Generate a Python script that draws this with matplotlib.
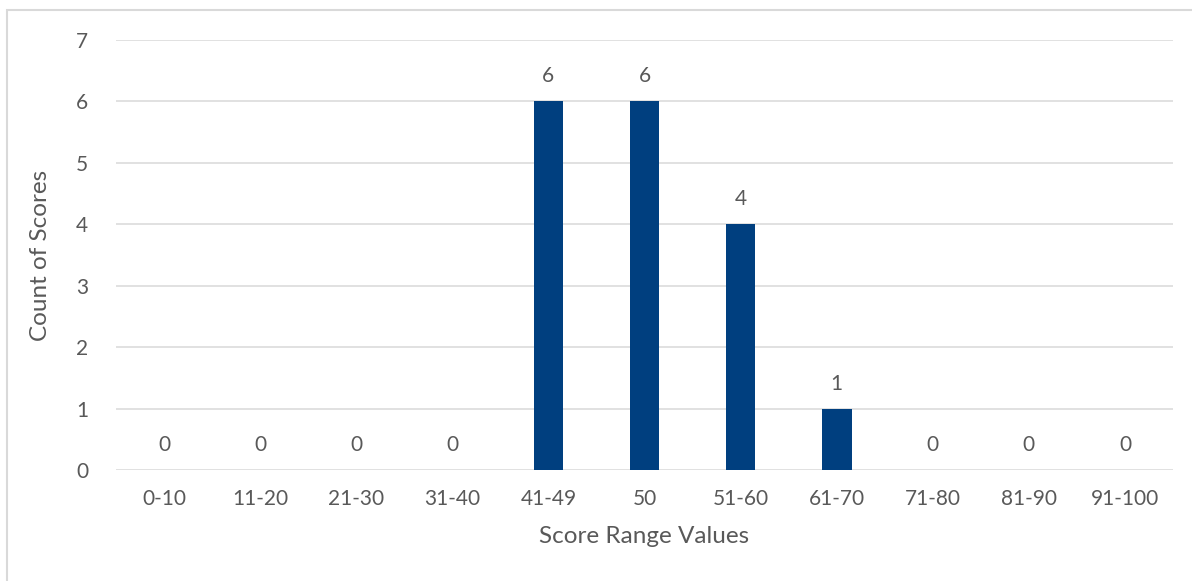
import matplotlib.pyplot as plt
from matplotlib.patches import Rectangle

ranges = ['0-10', '11-20', '21-30', '31-40', '41-49', '50', '51-60', '61-70', '71-80', '81-90', '91-100']
counts = [0, 0, 0, 0, 6, 6, 4, 1, 0, 0, 0]

TEXT = '#595959'
GRID = '#d9d9d9'
BAR = '#003f7f'

plt.rcParams['font.family'] = ['Lato', 'DejaVu Sans']

fig = plt.figure(figsize=(11.92, 5.81), dpi=100)
ax = fig.add_axes([116 / 1192, 111 / 581, 1057 / 1192, 430 / 581])

# chart area frame (runs off the right and bottom edges)
fig.patches.append(Rectangle((7 / 1192, -0.05), 1.2, 1 - 10 / 581 + 0.05,
                             transform=fig.transFigure, fill=False,
                             edgecolor=GRID, linewidth=1.5))

x = range(len(ranges))
bars = ax.bar(x, counts, width=0.31, color=BAR, zorder=3)
for xi, c in zip(x, counts):
    ax.annotate(str(c), (xi, c), xytext=(0, 18), textcoords='offset points',
                ha='center', va='center', fontsize=15, color=TEXT)

ax.set_xlim(-0.5, len(ranges) - 0.5)
ax.set_ylim(0, 7)
ax.set_yticks(range(8))
ax.set_xticks(list(x))
ax.set_xticklabels(ranges)
ax.yaxis.grid(True, color=GRID, linewidth=1.1, zorder=0)
ax.tick_params(length=0, labelsize=15, labelcolor=TEXT)
ax.tick_params(axis='y', pad=20)
ax.tick_params(axis='x', pad=14)
for s in ax.spines.values():
    s.set_visible(False)

ax.set_xlabel('Score Range Values', fontsize=17.5, color=TEXT, labelpad=12)
ax.set_ylabel('Count of Scores', fontsize=17.5, color=TEXT, labelpad=18)

fig.savefig('out.png', dpi=100)
